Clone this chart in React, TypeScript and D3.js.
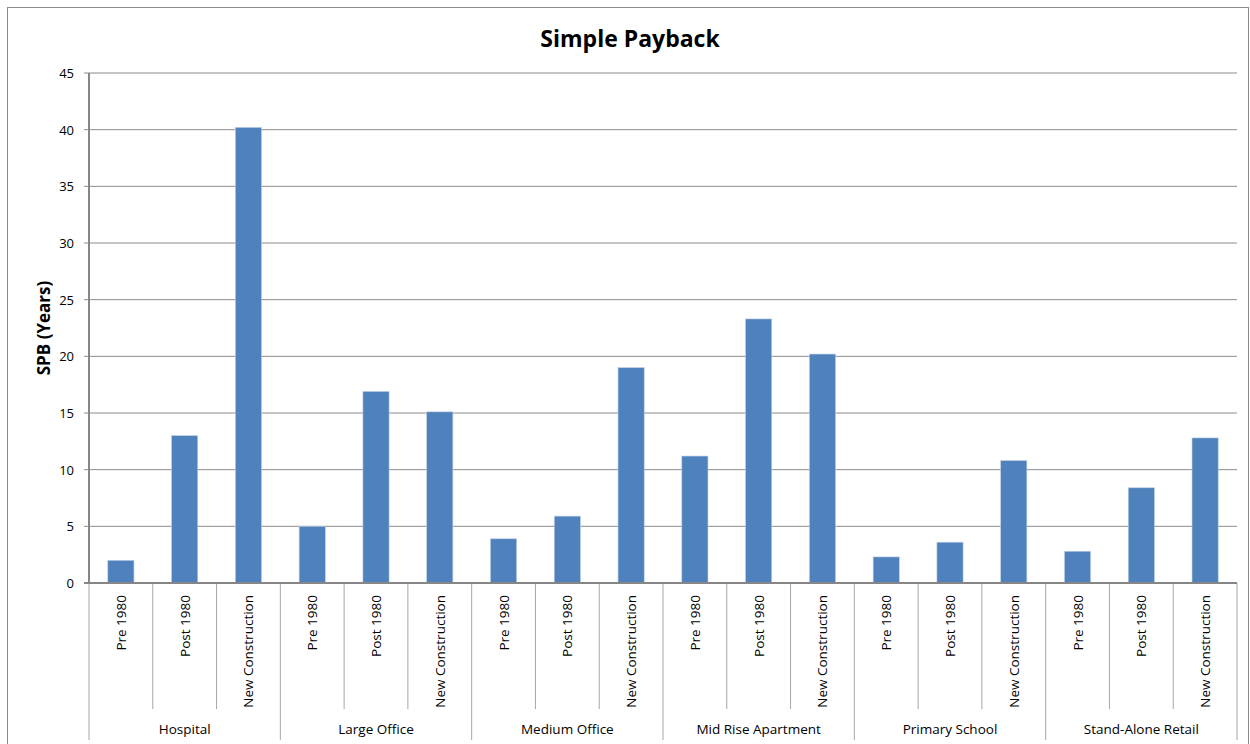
import React from "react";
import * as d3 from "d3";

const groups = ["Hospital", "Large Office", "Medium Office", "Mid Rise Apartment", "Primary School", "Stand-Alone Retail"];
const subcats = ["Pre 1980", "Post 1980", "New Construction"];
const values = [
  [2.0, 13.0, 40.2],
  [5.0, 16.9, 15.1],
  [3.9, 5.9, 19.0],
  [11.2, 23.3, 20.2],
  [2.3, 3.6, 10.8],
  [2.8, 8.4, 12.8],
];
const yTicks = [0, 5, 10, 15, 20, 25, 30, 35, 40, 45];

const W = 1250, H = 744;
const left = 89, right = 1237, top = 73, bottom = 583;
const FONT = "'Open Sans', 'Noto Sans', sans-serif";

export default function App() {
  const items = groups.flatMap((g, gi) => subcats.map((s, si) => ({ key: `${gi}-${si}`, g, gi, s, si, v: values[gi][si] })));
  const x = d3.scaleBand<string>().domain(items.map(d => d.key)).range([left, right]).paddingInner(0.59).paddingOuter(0.295);
  const step = (right - left) / items.length;
  const y = d3.scaleLinear().domain([0, 45]).range([bottom, top]);
  return (
    <svg width={W} height={H} style={{ position: "absolute", left: 0, top: 0, background: "#fff" }}>
      <rect x={7.5} y={7.5} width={W - 9} height={H} fill="#fff" stroke="#8c8c8c" strokeWidth={1} />
      <text x={630} y={47} textAnchor="middle" fontFamily={FONT} fontWeight="bold" fontSize={23} fill="#000">Simple Payback</text>
      <text transform={`translate(50,${(top + bottom) / 2}) rotate(-90)`} textAnchor="middle" fontFamily={FONT} fontWeight="bold" fontSize={17} fill="#000">SPB (Years)</text>
      {yTicks.map(t => (
        <g key={t}>
          {t > 0 && <line x1={left} x2={right} y1={y(t)} y2={y(t)} stroke="#8c8c8c" strokeWidth={1} />}
          <line x1={84} x2={left} y1={y(t)} y2={y(t)} stroke="#8c8c8c" strokeWidth={1} />
          <text x={74} y={y(t) + 5} textAnchor="end" fontFamily={FONT} fontSize={13} fill="#000">{t}</text>
        </g>
      ))}
      {items.map(d => (
        <rect key={d.key} x={x(d.key)!} y={y(d.v)} width={x.bandwidth()} height={bottom - y(d.v)} fill="#4f81bd" stroke="#b9cde5" strokeWidth={0.6} />
      ))}
      <line x1={left} x2={left} y1={top} y2={bottom} stroke="#868686" strokeWidth={2} />
      {items.map((d, i) => (
        <g key={"l" + d.key}>
          {i > 0 && (
            <line x1={left + i * step} x2={left + i * step} y1={bottom} y2={d.si === 0 ? 740 : 709} stroke="#a6a6a6" strokeWidth={1} />
          )}
          <text transform={`translate(${left + (i + 0.5) * step + 5},595) rotate(-90)`} textAnchor="end" fontFamily={FONT} fontSize={13.5} fill="#000">{d.s}</text>
        </g>
      ))}
      <line x1={left} x2={left} y1={bottom} y2={740} stroke="#a6a6a6" strokeWidth={1} />
      <line x1={right} x2={right} y1={bottom} y2={740} stroke="#a6a6a6" strokeWidth={1} />
      {groups.map((g, gi) => (
        <text key={g} x={left + (gi * 3 + 1.5) * step} y={734} textAnchor="middle" fontFamily={FONT} fontSize={13.5} fill="#000">{g}</text>
      ))}
      <line x1={left - 5} x2={right} y1={bottom} y2={bottom} stroke="#868686" strokeWidth={2} />
    </svg>
  );
}
